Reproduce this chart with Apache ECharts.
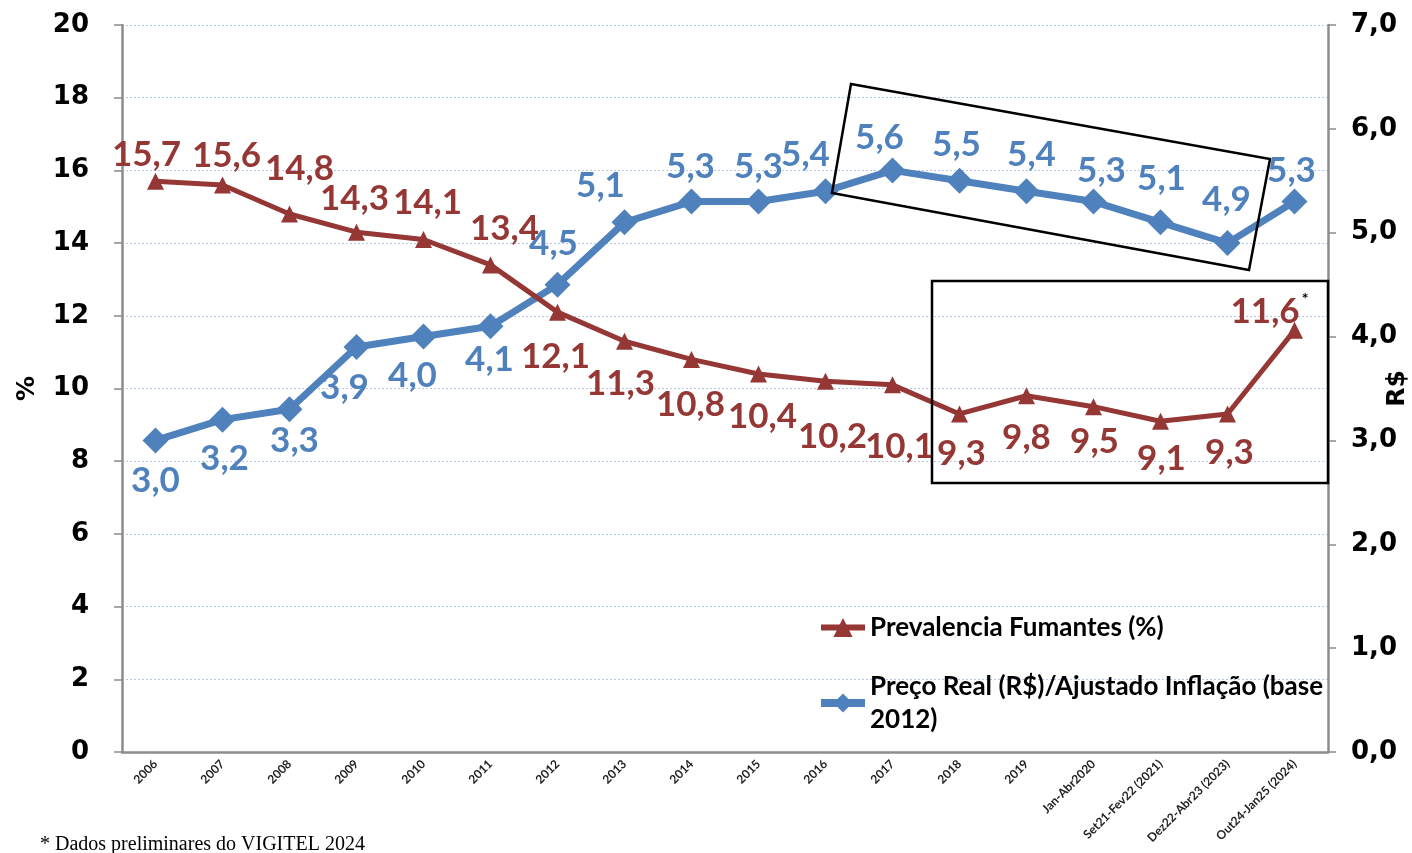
<!DOCTYPE html>
<html lang="pt">

<head>
    <meta charset="UTF-8">
    <title>Prevalência de fumantes x preço real</title>
    <script src="https://cdn.jsdelivr.net/npm/echarts@6/dist/echarts.min.js"></script>
    <style>
        html,
        body {
            margin: 0;
            padding: 0;
            background: #fff;
        }

        #chart {
            width: 1412px;
            height: 853px;
        }
    </style>
</head>

<body>
    <div id="chart"></div>
    <script>
        // categorias (eixo x)
        var periodos = ['2006', '2007', '2008', '2009', '2010', '2011', '2012', '2013', '2014', '2015',
            '2016', '2017', '2018', '2019', 'Jan-Abr2020', 'Set21-Fev22 (2021)', 'Dez22-Abr23 (2023)',
            'Out24-Jan25 (2024)'];
        // prevalencia de fumantes (%)
        var prevalencia = [15.7, 15.6, 14.8, 14.3, 14.1, 13.4, 12.1, 11.3, 10.8, 10.4, 10.2, 10.1, 9.3, 9.8,
            9.5, 9.1, 9.3, 11.6];
        // preco real (R$) ajustado pela inflacao
        var precoReal = [3.0, 3.2, 3.3, 3.9, 4.0, 4.1, 4.5, 5.1, 5.3, 5.3, 5.4, 5.6, 5.5, 5.4, 5.3, 5.1, 4.9, 5.3];
        // ticks dos eixos
        var ticksPct = [0, 2, 4, 6, 8, 10, 12, 14, 16, 18, 20];
        var ticksReais = ['0,0', '1,0', '2,0', '3,0', '4,0', '5,0', '6,0', '7,0'];

        // deslocamento dos rotulos (px) em relacao ao ponto
        var offPrev = [[-9, -27], [4, -29], [10, -45], [-2, -33], [4, -37], [14, -36], [-2, 45], [-4, 42],
            [-1, 45], [4, 43], [7, 55], [7, 62], [2, 40], [0, 42], [1, 35], [1, 38], [2, 39], [-25, -19]];
        var offPreco = [[0, 40], [2, 39], [5, 31], [-12, 41], [-11, 39], [-1, 34], [-4, -41], [-24, -37],
            [-1, -35], [0, -35], [-20, -36], [-13, -33], [-3, -36], [5, -36], [8, -31], [1, -44], [-1, -43],
            [-3, -31]];

        var VERMELHO = '#953735';
        var AZUL = '#4f81bd';

        function fmt(v) {
            return v.toFixed(1).replace('.', ',');
        }

        var dadosPrev = prevalencia.map(function (v, i) {
            var item = { value: v, label: { offset: offPrev[i] } };
            if (i === prevalencia.length - 1) {
                // asterisco: dado preliminar
                item.label.formatter = '{v|' + fmt(v) + '}{s|*}';
            }
            return item;
        });
        var dadosPreco = precoReal.map(function (v, i) {
            return { value: v, label: { offset: offPreco[i] } };
        });

        var myChart = echarts.init(document.getElementById('chart'));

        var option = {
            backgroundColor: '#fff',
            animation: false,
            grid: {
                left: 122,
                right: 84,
                top: 25,
                bottom: 101,
                containLabel: false,
                outerBoundsMode: 'none'
            },
            legend: {
                orient: 'vertical',
                left: 812,
                top: 606,
                itemWidth: 44,
                itemHeight: 24,
                itemGap: 26,
                textStyle: {
                    fontFamily: 'Lato',
                    fontWeight: 'bold',
                    fontSize: 26,
                    color: '#000',
                    lineHeight: 33
                },
                data: [{
                    name: 'Prevalencia Fumantes (%)',
                    lineStyle: { width: 6 }
                }, {
                    name: 'Preço Real (R$)/Ajustado Inflação (base 2012)',
                    lineStyle: { width: 8 }
                }],
                formatter: function (name) {
                    if (name.indexOf('Preço') === 0) {
                        return 'Preço Real (R$)/Ajustado Inflação (base\n2012)';
                    }
                    return name;
                }
            },
            xAxis: {
                type: 'category',
                data: periodos,
                boundaryGap: true,
                axisLine: {
                    lineStyle: { color: '#8c8c8c', width: 2.5 }
                },
                axisTick: { show: false },
                axisLabel: {
                    interval: 0,
                    rotate: 45,
                    margin: 10,
                    fontFamily: 'Lato',
                    fontWeight: 'bold',
                    fontSize: 12,
                    color: '#222'
                }
            },
            yAxis: [{
                type: 'value',
                name: '%',
                nameLocation: 'middle',
                nameGap: 82,
                nameRotate: 90,
                nameTextStyle: {
                    fontFamily: 'DejaVu Sans',
                    fontWeight: 'bold',
                    fontSize: 25,
                    color: '#000'
                },
                min: ticksPct[0],
                max: ticksPct[ticksPct.length - 1],
                interval: 2,
                axisLine: {
                    show: true,
                    lineStyle: { color: '#8c8c8c', width: 2.5 }
                },
                axisTick: {
                    show: true,
                    length: 8,
                    lineStyle: { color: '#8c8c8c', width: 1.5 }
                },
                axisLabel: {
                    margin: 33,
                    fontFamily: 'DejaVu Sans',
                    fontWeight: 'bold',
                    fontSize: 26,
                    color: '#000'
                },
                splitLine: {
                    show: true,
                    lineStyle: { color: '#b4c7e7', type: [2, 2], width: 1 }
                }
            }, {
                type: 'value',
                name: 'R$',
                nameLocation: 'middle',
                nameGap: 57,
                nameMoveOverlap: false,
                nameRotate: 90,
                nameTextStyle: {
                    fontFamily: 'DejaVu Sans',
                    fontWeight: 'bold',
                    fontSize: 25,
                    color: '#000'
                },
                min: 0,
                max: 7,
                interval: 1,
                axisLine: {
                    show: true,
                    lineStyle: { color: '#8c8c8c', width: 2.5 }
                },
                axisTick: {
                    show: true,
                    length: 8,
                    lineStyle: { color: '#8c8c8c', width: 1.5 }
                },
                axisLabel: {
                    margin: 23,
                    fontFamily: 'DejaVu Sans',
                    fontWeight: 'bold',
                    fontSize: 26,
                    color: '#000',
                    formatter: function (v) {
                        return ticksReais[Math.round(v)];
                    }
                },
                splitLine: { show: false }
            }],
            series: [{
                name: 'Prevalencia Fumantes (%)',
                type: 'line',
                yAxisIndex: 0,
                data: dadosPrev,
                symbol: 'triangle',
                symbolSize: 17,
                z: 3,
                lineStyle: { color: VERMELHO, width: 5 },
                itemStyle: { color: VERMELHO },
                label: {
                    show: true,
                    position: 'inside',
                    fontFamily: 'Lato',
                    fontWeight: 'bold',
                    fontSize: 35,
                    color: VERMELHO,
                    formatter: function (p) {
                        return fmt(p.value);
                    },
                    rich: {
                        v: {
                            fontFamily: 'Lato',
                            fontWeight: 'bold',
                            fontSize: 35,
                            color: VERMELHO
                        },
                        s: {
                            fontFamily: 'Lato',
                            fontWeight: 'bold',
                            fontSize: 16,
                            color: '#000',
                            padding: [0, 0, 24, 2]
                        }
                    }
                }
            }, {
                name: 'Preço Real (R$)/Ajustado Inflação (base 2012)',
                type: 'line',
                yAxisIndex: 1,
                data: dadosPreco,
                symbol: 'diamond',
                symbolSize: 26,
                z: 2,
                lineStyle: { color: AZUL, width: 7 },
                itemStyle: { color: AZUL },
                label: {
                    show: true,
                    position: 'inside',
                    fontFamily: 'Lato',
                    fontWeight: 'bold',
                    fontSize: 35,
                    color: AZUL,
                    formatter: function (p) {
                        return fmt(p.value);
                    }
                }
            }],
            graphic: [{
                // destaque do preco 2016-2023
                type: 'polygon',
                shape: {
                    points: [[851, 84], [1270, 159], [1249, 270], [832, 193]]
                },
                style: { fill: 'none', stroke: '#000', lineWidth: 2.5 },
                z: 10
            }, {
                // destaque da prevalencia 2018-2024
                type: 'rect',
                shape: { x: 932, y: 281, width: 396, height: 202 },
                style: { fill: 'none', stroke: '#000', lineWidth: 2.5 },
                z: 10
            }, {
                type: 'text',
                left: 40,
                top: 835,
                style: {
                    text: '* Dados preliminares do VIGITEL 2024',
                    fontFamily: 'Liberation Serif',
                    fontSize: 20,
                    fill: '#000'
                }
            }]
        };

        myChart.setOption(option);
    </script>
</body>

</html>
